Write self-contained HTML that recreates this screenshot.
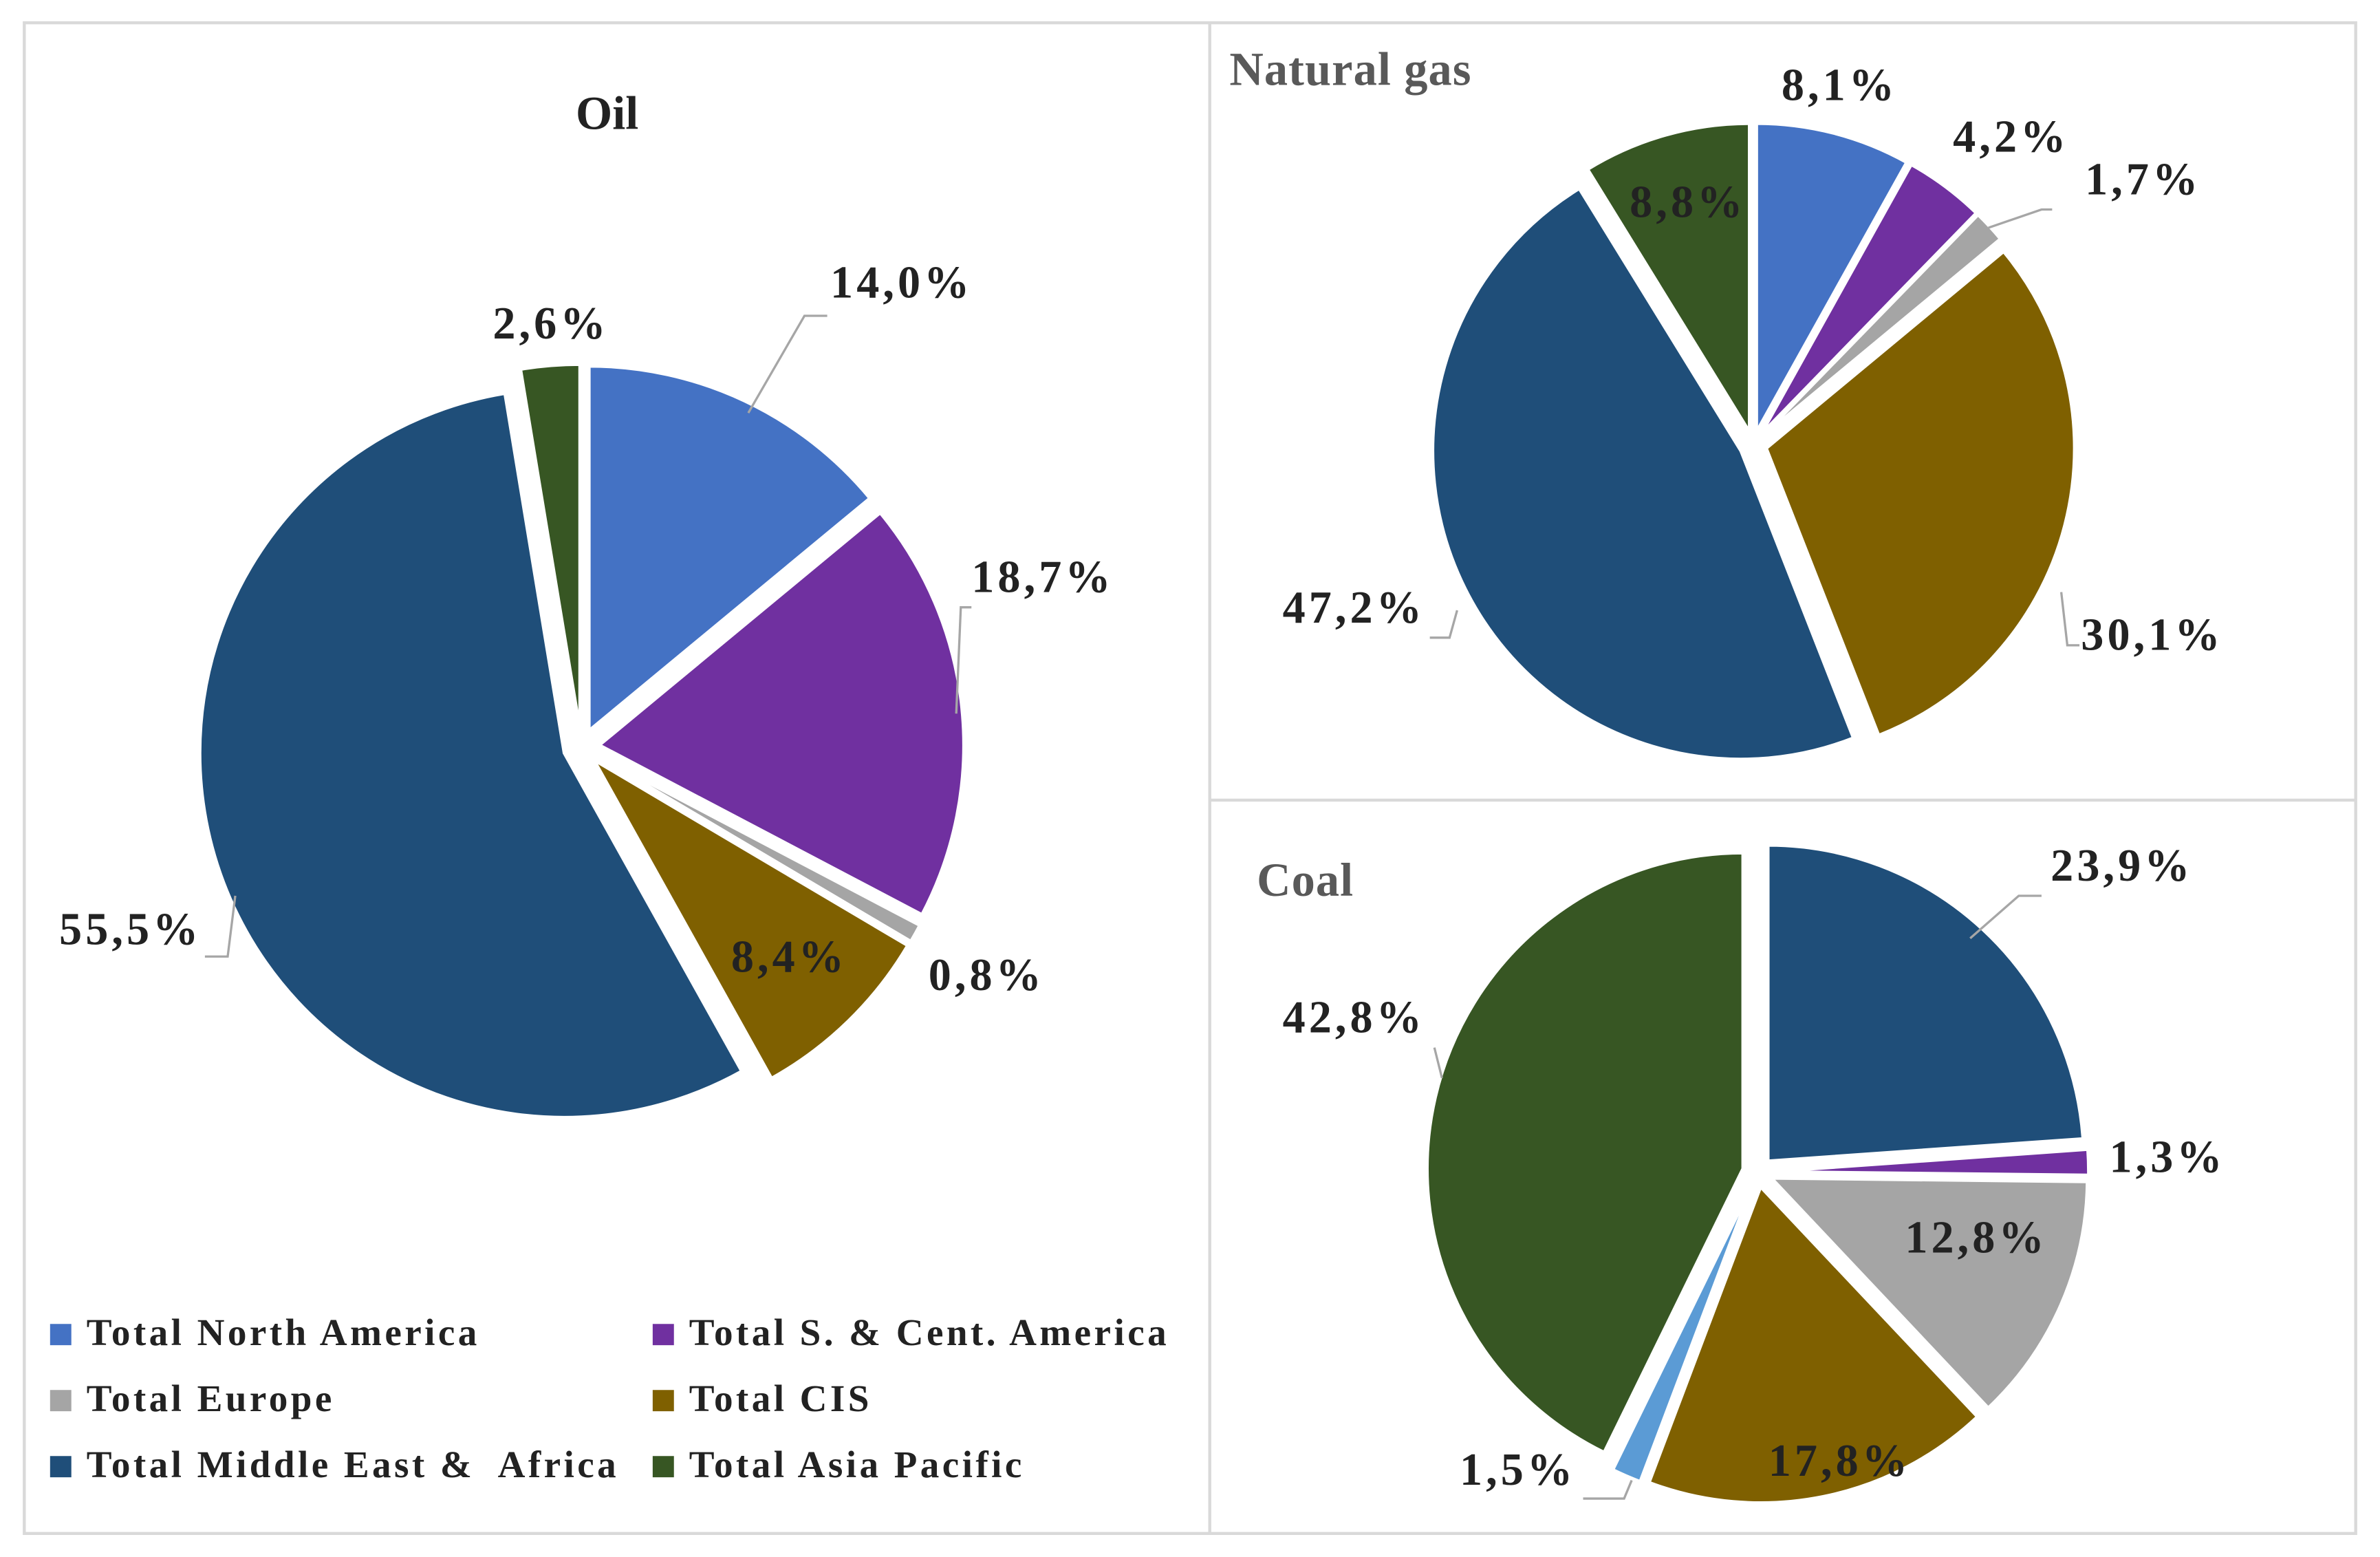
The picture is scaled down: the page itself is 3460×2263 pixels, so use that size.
<!DOCTYPE html>
<html><head><meta charset="utf-8">
<style>
html,body{margin:0;padding:0;background:#fff;}
svg{display:block;}
text{font-family:"Liberation Serif",serif;white-space:pre;}
</style></head>
<body>
<svg id="chart" width="3460" height="2263" viewBox="0 0 1568 1025.5" preserveAspectRatio="none" xmlns="http://www.w3.org/2000/svg">
<rect x="0" y="0" width="1568" height="1025.5" fill="#fff"/>
<rect x="16" y="15" width="1536" height="995" fill="none" stroke="#d9d9d9" stroke-width="2"/>
<line x1="797" y1="15" x2="797" y2="1010" stroke="#d9d9d9" stroke-width="2"/>
<line x1="797" y1="527" x2="1552" y2="527" stroke="#d9d9d9" stroke-width="2"/>
<text x="400" y="85" font-size="31" font-weight="bold" text-anchor="middle" fill="#222">Oil</text>
<text x="810" y="56" font-size="31" font-weight="bold" fill="#595959" letter-spacing="0.5">Natural gas</text>
<text x="828" y="590" font-size="31" font-weight="bold" fill="#595959" letter-spacing="0.5">Coal</text>
<g id="pies"></g>
<g id="leaders" fill="none" stroke="#a6a6a6" stroke-width="1.5">
<polyline points="493,272 530,208 545,208"/>
<polyline points="630,470 633,400 640,400"/>
<polyline points="155,590 150,630 135,630"/>
<polyline points="1310,150 1345,138 1352,138"/>
<polyline points="1358,390 1362,425 1370,425"/>
<polyline points="960,402 955,420 942,420"/>
<polyline points="1298,618 1330,590 1345,590"/>
<polyline points="950,710 945,690"/>
<polyline points="1075,975 1070,987 1043,987"/>
</g>
<g id="labels"></g>
<g id="legend"></g>
</svg>
<script>
const regions = ["Total North America","Total S. & Cent. America","Total Europe","Total CIS","Total Middle East &  Africa","Total Asia Pacific"];
const regionColors = ["#4472C4","#7030A0","#A5A5A5","#7F6000","#1F4E79","#375623"];
const coalColors = ["#5B9BD5","#7030A0","#A5A5A5","#7F6000","#1F4E79","#375623"];
const oilValues = [14.0,18.7,0.8,8.4,55.5,2.6];
const gasValues = [8.1,4.2,1.7,30.1,47.2,8.8];
const coalOrder = [4,1,2,3,0,5];
const coalValues = [23.9,1.3,12.8,17.8,1.5,42.8];
const oilLabelPos = [[594,196],[687,390],[650,652],[520,640],[86,622],[363,223]];
const gasLabelPos = [[1212,66],[1325,100],[1412,128],[1418,428],[892,410],[1112,143]];
const coalLabelPos = [[1398,580],[1428,772],[1302,825],[1212,972],[1000,978],[892,680]];
const NS="http://www.w3.org/2000/svg";
const piesG=document.getElementById('pies');
const labelsG=document.getElementById('labels');
function fmt(v){return v.toFixed(1).replace('.',',')+'%';}
function drawPie(name,cx,cy,r,explode,values,colorIdx,labelPos,colors){
  const total=values.reduce((a,b)=>a+b,0);
  let a0=-Math.PI/2;
  values.forEach((v,i)=>{
    const a1=a0+v/total*2*Math.PI;
    const am=(a0+a1)/2;
    const ox=cx+explode*Math.cos(am), oy=cy+explode*Math.sin(am);
    const x0=ox+r*Math.cos(a0), y0=oy+r*Math.sin(a0);
    const x1=ox+r*Math.cos(a1), y1=oy+r*Math.sin(a1);
    const large=(a1-a0)>Math.PI?1:0;
    const p=document.createElementNS(NS,'path');
    p.setAttribute('d',`M${ox},${oy}L${x0},${y0}A${r},${r} 0 ${large} 1 ${x1},${y1}Z`);
    p.setAttribute('fill',colors[colorIdx[i]]);
    p.setAttribute('stroke','#fff');
    p.setAttribute('stroke-width','2');
    
    
    piesG.appendChild(p);
    const t=document.createElementNS(NS,'text');
    t.setAttribute('x',labelPos[i][0]);
    t.setAttribute('y',labelPos[i][1]);
    t.setAttribute('text-anchor','middle');
    t.setAttribute('font-size','30');
    t.setAttribute('font-weight','bold');
    t.setAttribute('letter-spacing','2.3');
    t.setAttribute('fill','#222');
    t.textContent=fmt(v);
    
    
    labelsG.appendChild(t);
    a0=a1;
  });
}
drawPie('oil',383,492,240,12,oilValues,[0,1,2,3,4,5],oilLabelPos,regionColors);
drawPie('gas',1155,293,203,9,gasValues,[0,1,2,3,4,5],gasLabelPos,regionColors);
drawPie('coal',1158,772,208,10,coalValues,coalOrder,coalLabelPos,coalColors);
const legendG=document.getElementById('legend');
regions.forEach((r,i)=>{
  const col=i%2, row=Math.floor(i/2);
  const x=col===0?33:430, y=872+row*43.5;
  const sq=document.createElementNS(NS,'rect');
  sq.setAttribute('x',x);sq.setAttribute('y',y);
  sq.setAttribute('width',14);sq.setAttribute('height',14);
  sq.setAttribute('fill',regionColors[i]);
  
  
  legendG.appendChild(sq);
  const t=document.createElementNS(NS,'text');
  t.setAttribute('x',x+24);t.setAttribute('y',y+14);
  t.setAttribute('font-size','25');t.setAttribute('font-weight','bold');
  t.setAttribute('letter-spacing','2');
  t.setAttribute('fill','#222');
  t.textContent=r;
  
  
  legendG.appendChild(t);
});
</script>
</body></html>
